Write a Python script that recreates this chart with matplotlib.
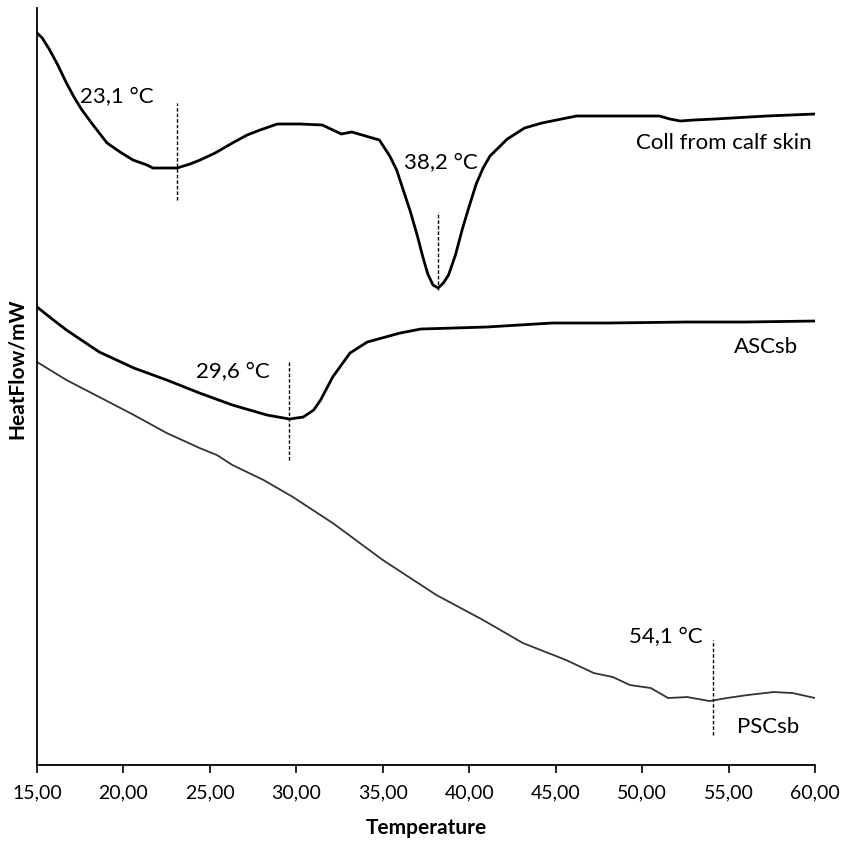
import matplotlib.pyplot as plt
from matplotlib.ticker import FixedLocator

plt.rcParams['font.family'] = ['Lato', 'DejaVu Sans']

# DSC curves (heat flow in arbitrary units)
coll_t = [15.0, 15.3, 15.7, 16.2, 16.7, 17.2, 17.6, 18.24, 19.05, 19.8, 20.55, 21.36, 21.7,
          23.1, 23.85, 24.43, 25.3, 26.3, 27.15, 27.9, 28.9, 30.2, 31.5, 32.6, 33.2,
          34.8, 35.4, 35.8, 36.2, 36.6, 37.0, 37.3, 37.6, 37.9, 38.2, 38.5, 38.8, 39.2,
          39.6, 40.0, 40.4, 40.8, 41.2, 42.2, 43.2, 44.2, 46.2, 49.2, 51.0, 51.6, 52.2,
          53.0, 54.2, 57.2, 60.0]
coll_hf = [732, 727, 716, 700, 682, 666, 655, 640, 622, 613, 605, 600, 597,
           597, 601, 605, 612, 622, 630, 635, 641, 641, 640, 631, 633,
           625, 609, 595, 574, 553, 529, 509, 491, 480, 477, 482, 490, 510,
           536, 559, 581, 597, 609, 626, 637, 642, 649, 649, 649, 646, 644,
           645, 646, 649, 651]

asc_t = [15.0, 15.8, 16.7, 18.6, 20.6, 22.5, 24.4, 26.3, 28.3, 29.6, 30.4, 31.0, 31.4,
         32.1, 33.1, 34.1, 36.0, 37.2, 41.0, 44.8, 48.0, 52.6, 56.0, 60.0]
asc_hf = [458, 447, 435, 413, 397, 385, 372, 360, 350, 346, 348, 355, 365,
          388, 412, 423, 432, 436, 438, 442, 442, 443, 443, 444]

psc_t = [15.0, 16.7, 18.6, 20.6, 22.5, 24.4, 25.4, 26.3, 28.1, 29.8, 32.1, 35.0, 38.1,
         40.8, 43.1, 45.6, 47.2, 48.3, 49.3, 50.5, 51.5, 52.6, 53.9, 54.9, 56.1, 57.6,
         58.7, 60.0]
psc_hf = [403, 385, 368, 350, 332, 317, 310, 300, 285, 268, 242, 205, 170,
          145, 122, 105, 92, 88, 80, 77, 67, 68, 64, 67, 70, 73,
          72, 67]

peak_t = [23.1, 38.2, 29.6, 54.1]
peak_lo = [565, 475, 305, 30]
peak_hi = [662, 553, 405, 125]
peak_lbl = ['23,1 °C', '38,2 °C', '29,6 °C', '54,1 °C']

xticks = [15, 20, 25, 30, 35, 40, 45, 50, 55, 60]
xlabels = ['15,00', '20,00', '25,00', '30,00', '35,00', '40,00', '45,00', '50,00', '55,00', '60,00']

fig = plt.figure(figsize=(8.42, 8.42), dpi=100)
ax = fig.add_axes([0.044, 0.0914, 0.924, 0.8991])

ax.plot(coll_t, coll_hf, color='black', lw=2.0)
ax.plot(asc_t, asc_hf, color='black', lw=2.0)
ax.plot(psc_t, psc_hf, color='#333333', lw=1.3)

for t, lo, hi in zip(peak_t, peak_lo, peak_hi):
    ax.plot([t, t], [lo, hi], color='black', lw=1.0, ls=(0, (2.5, 1.5)))

# peak labels
ax.text(17.5, 668, peak_lbl[0], fontsize=16, va='center', ha='left')
ax.text(36.2, 602, peak_lbl[1], fontsize=16, va='center', ha='left')
ax.text(24.2, 393, peak_lbl[2], fontsize=16, va='center', ha='left')
ax.text(53.5, 128, peak_lbl[3], fontsize=16, va='center', ha='right')

# curve names
ax.text(59.8, 622, 'Coll from calf skin', fontsize=16, va='center', ha='right')
ax.text(59.0, 418, 'ASCsb', fontsize=16, va='center', ha='right')
ax.text(59.1, 38, 'PSCsb', fontsize=16, va='center', ha='right')

ax.set_xlim(15, 60)
ax.set_ylim(0, 757)
ax.xaxis.set_major_locator(FixedLocator(xticks))
ax.set_xticklabels(xlabels, fontsize=14)
ax.set_yticks([])
ax.tick_params(axis='x', direction='out', length=6, width=1.2, pad=8)

for s in ['top', 'right']:
    ax.spines[s].set_visible(False)
for s in ['left', 'bottom']:
    ax.spines[s].set_linewidth(1.3)

ax.set_xlabel('Temperature', fontsize=15, fontweight='bold', labelpad=12)
ax.text(-0.026, 0.523, 'HeatFlow/mW', transform=ax.transAxes, rotation=90,
        fontsize=15, fontweight='bold', ha='center', va='center')

fig.savefig('out.png', dpi=100)
